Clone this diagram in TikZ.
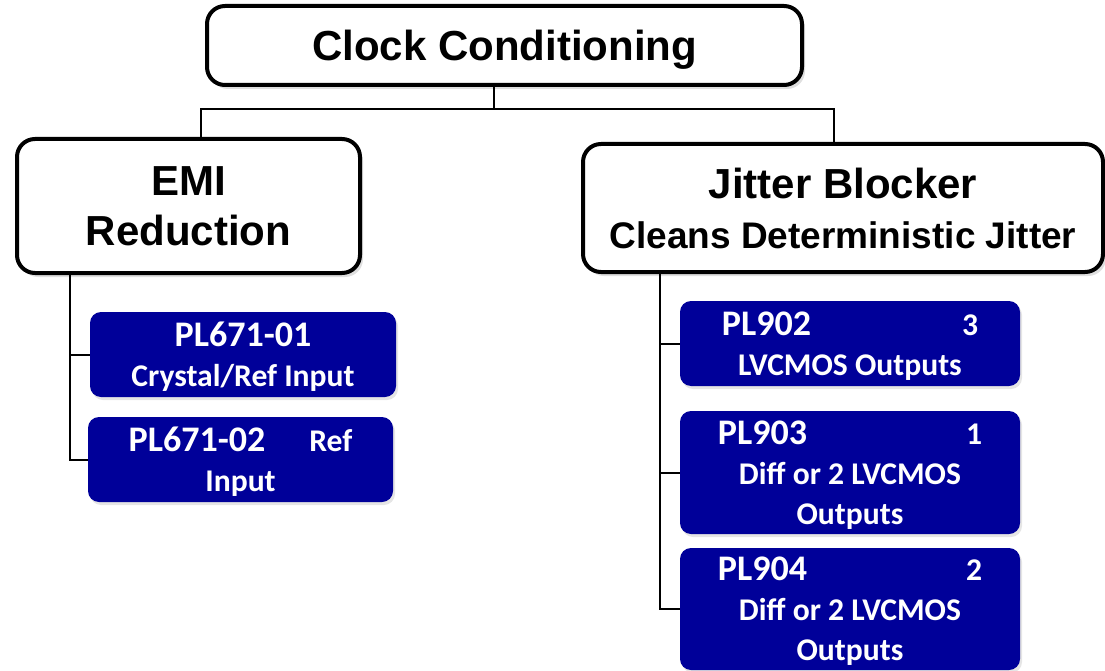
\documentclass[tikz,border=0pt]{standalone}
\usepackage{fontspec}
\setmainfont{Liberation Sans}
\newfontfamily\partfont{Carlito}
\usepackage{xcolor}
\usetikzlibrary{positioning,shadows}
\definecolor{partblue}{RGB}{0,0,153}
\newcommand\pname[1]{{\fontsize{36}{40}\selectfont #1}}

\begin{document}
\begin{tikzpicture}[x=1pt, y=-1pt,
    headbox/.style={rectangle, draw=black, line width=4pt, fill=white, rounded corners=18pt, align=center, text depth=0pt, font=\bfseries\fontsize{42}{50}\selectfont, drop shadow={shadow xshift=3pt, shadow yshift=-4pt, opacity=0.25}},
    partbox/.style={rectangle, fill=partblue, text=white, rounded corners=11pt, align=center, text depth=0pt, font=\partfont\bfseries\fontsize{31.6}{40}\selectfont, drop shadow={shadow xshift=2pt, shadow yshift=-3pt, opacity=0.2}},
    link/.style={draw=black, line width=2pt}
]
    \useasboundingbox[fill=white] (0,0) rectangle (1105,671);

    % headings
    \node[headbox, minimum width=595pt, minimum height=79pt] (top) at (504.5,45.5) {Clock Conditioning};
    \node[headbox, minimum width=343pt, minimum height=134pt] (emi) at (188.5,206) {EMI\\Reduction};
    \node[headbox, minimum width=520pt, minimum height=128pt] (jit) at (843,208) {Jitter Blocker\\{\fontsize{37}{50}\selectfont Cleans Deterministic Jitter}};

    % parts
    \node[partbox, minimum width=306pt, minimum height=85pt] (pl671a) at (243,354.5) {\pname{PL671-01}\\Crystal/Ref Input};
    \node[partbox, minimum width=305pt, minimum height=85pt] (pl671b) at (240.5,459.5) {\pname{PL671-02}\hspace{44pt}Ref\\Input};
    \node[partbox, minimum width=340pt, minimum height=85pt] (pl902) at (850,343.5) {\pname{PL902}\hspace{151pt}3\\LVCMOS Outputs};
    \node[partbox, minimum width=340pt, minimum height=123pt] (pl903) at (850,472.5) {\pname{PL903}\hspace{159pt}1\\Diff or 2 LVCMOS\\Outputs};
    \node[partbox, minimum width=340pt, minimum height=122pt] (pl904) at (850,609) {\pname{PL904}\hspace{159pt}2\\Diff or 2 LVCMOS\\Outputs};

    % tree lines
    \coordinate (hub) at (494,109);
    \coordinate (emiup) at (201,109);
    \coordinate (jitup) at (834,109);
    \coordinate (emitrunk) at (70,300);
    \coordinate (jittrunk) at (660,300);

    \draw[link] (top.south -| hub) -- (hub);
    \draw[link] (emiup |- emi.north) -- (emiup) -- (jitup) -- (jitup |- jit.north);

    \draw[link] (emitrunk |- emi.south) |- (pl671b.west);
    \draw[link] (emitrunk |- pl671a.west) -- (pl671a.west);

    \draw[link] (jittrunk |- jit.south) |- (pl904.west);
    \draw[link] (jittrunk |- pl902.west) -- (pl902.west);
    \draw[link] (jittrunk |- pl903.west) -- (pl903.west);
\end{tikzpicture}
\end{document}
